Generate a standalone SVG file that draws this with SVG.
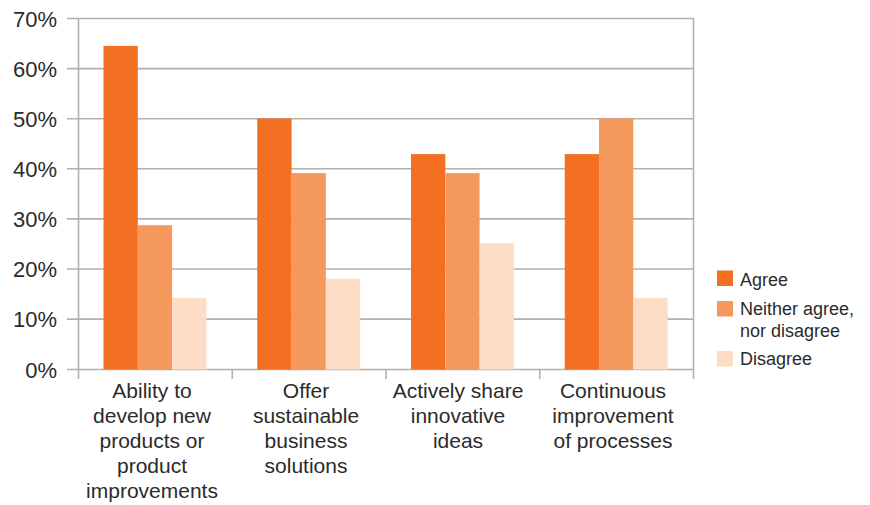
<svg xmlns="http://www.w3.org/2000/svg" width="870" height="505" viewBox="0 0 870 505">
<style>
.grid{stroke:#B8AFA8;stroke-width:1.6;fill:none}
.ag{fill:#F36F21}
.ne{fill:#F5985C}
.di{fill:#FDDDC5}
.ylab{font-family:"Liberation Sans",Arial,sans-serif;font-size:22px;fill:#2B2B2B;text-anchor:end}
.cat{font-family:"Liberation Sans",Arial,sans-serif;font-size:21px;fill:#2B2B2B;text-anchor:middle}
.leg{font-family:"Liberation Sans",Arial,sans-serif;font-size:18px;fill:#2B2B2B}
</style>
<rect width="870" height="505" fill="#FFFFFF"/>
<g id="gridlines">
<path class="grid" d="M67 18.5H693.5M67 68.6H693.5M67 118.7H693.5M67 168.8H693.5M67 218.9H693.5M67 269H693.5M67 319.1H693.5M67 369.5H693.5"/>
<path class="grid" d="M78.5 18.5V379M693.5 18.5V379M232.25 369.5V379M386 369.5V379M539.75 369.5V379"/>
</g>
<g id="y-axis-labels">
<text class="ylab" x="57" y="26.5">70%</text>
<text class="ylab" x="57" y="76.6">60%</text>
<text class="ylab" x="57" y="126.7">50%</text>
<text class="ylab" x="57" y="176.8">40%</text>
<text class="ylab" x="57" y="226.9">30%</text>
<text class="ylab" x="57" y="277">20%</text>
<text class="ylab" x="57" y="327.1">10%</text>
<text class="ylab" x="57" y="377.5">0%</text>
</g>
<g id="cat1">
<rect class="ag" x="103.5" y="45.9" width="34.3" height="323.6"/>
<rect class="ne" x="137.8" y="225.2" width="34.3" height="144.3"/>
<rect class="di" x="172.1" y="297.9" width="34.3" height="71.6"/>
<text class="cat" x="152"><tspan x="152" y="398">Ability to</tspan><tspan x="152" y="423">develop new</tspan><tspan x="152" y="448">products or</tspan><tspan x="152" y="473">product</tspan><tspan x="152" y="498">improvements</tspan></text>
</g>
<g id="cat2">
<rect class="ag" x="257.25" y="118.5" width="34.3" height="251"/>
<rect class="ne" x="291.55" y="173.1" width="34.3" height="196.4"/>
<rect class="di" x="325.85" y="278.8" width="34.3" height="90.7"/>
<text class="cat" x="306"><tspan x="306" y="398">Offer</tspan><tspan x="306" y="423">sustainable</tspan><tspan x="306" y="448">business</tspan><tspan x="306" y="473">solutions</tspan></text>
</g>
<g id="cat3">
<rect class="ag" x="411" y="154.1" width="34.3" height="215.4"/>
<rect class="ne" x="445.3" y="173.1" width="34.3" height="196.4"/>
<rect class="di" x="479.6" y="243.2" width="34.3" height="126.3"/>
<text class="cat" x="458"><tspan x="458" y="398">Actively share</tspan><tspan x="458" y="423">innovative</tspan><tspan x="458" y="448">ideas</tspan></text>
</g>
<g id="cat4">
<rect class="ag" x="564.75" y="154.1" width="34.3" height="215.4"/>
<rect class="ne" x="599.05" y="118.5" width="34.3" height="251"/>
<rect class="di" x="633.35" y="297.9" width="34.3" height="71.6"/>
<text class="cat" x="613"><tspan x="613" y="398">Continuous</tspan><tspan x="613" y="423">improvement</tspan><tspan x="613" y="448">of processes</tspan></text>
</g>
<g id="legend">
<rect class="ag" x="717" y="270.5" width="16" height="15.5"/>
<text class="leg" x="740" y="285.5">Agree</text>
<rect class="ne" x="717" y="301" width="16" height="15.5"/>
<text class="leg"><tspan x="740" y="315">Neither agree,</tspan><tspan x="740" y="337">nor disagree</tspan></text>
<rect class="di" x="717" y="351" width="16" height="15.5"/>
<text class="leg" x="740" y="365">Disagree</text>
</g>
</svg>
